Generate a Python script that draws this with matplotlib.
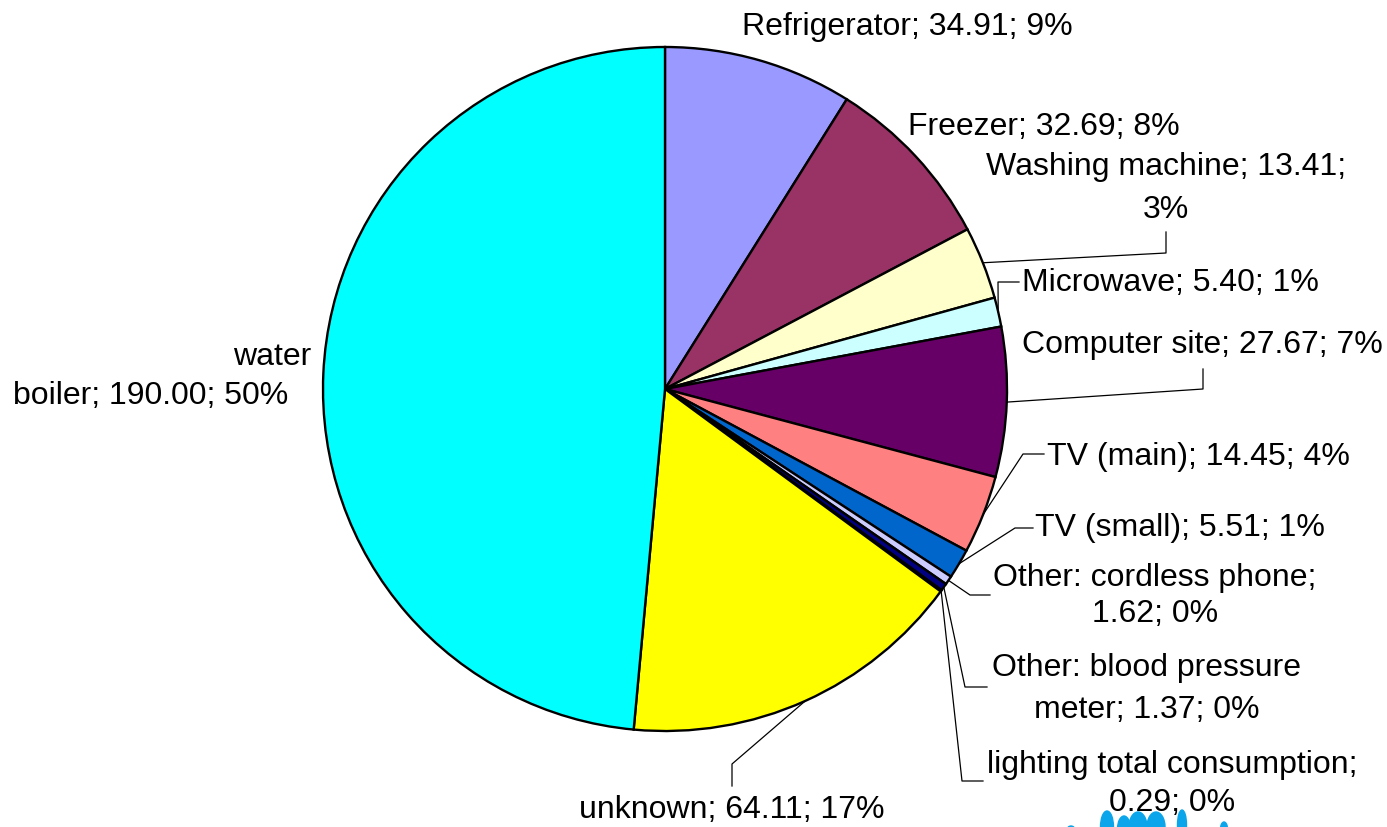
import math
import matplotlib
matplotlib.use("Agg")
import matplotlib.pyplot as plt
from matplotlib.patches import Ellipse

# energy use per appliance, clockwise from 12 o'clock
names = ["Refrigerator", "Freezer", "Washing machine", "Microwave", "Computer site",
         "TV (main)", "TV (small)", "Other: cordless phone", "Other: blood pressure meter",
         "lighting total consumption", "unknown", "water boiler"]
values = [34.91, 32.69, 13.41, 5.40, 27.67, 14.45, 5.51, 1.62, 1.37, 0.29, 64.11, 190.00]
percents = [9, 8, 3, 1, 7, 4, 1, 0, 0, 0, 17, 50]
colors = ["#9999FF", "#993366", "#FFFFCC", "#CCFFFF", "#660066", "#FF8080",
          "#0066CC", "#CCCCFF", "#000080", "#FF00FF", "#FFFF00", "#00FFFF"]

W, H = 1387, 828
CX, CY, R = 665, 390, 342  # pie centre / radius in pixels (y down)

# label layout: text lines (x, y, ha) in pixels, leader elbow + end (or None)
layout = [
    ("{n}; {v:.2f}; {p}%", [(907, 27, "center")], None),
    ("{n}; {v:.2f}; {p}%", [(1044, 127, "center")], None),
    ("{n}; {v:.2f};\n{p}%", [(1166, 167, "center"), (1166, 210, "center")], [(1166, 254), (1166, 233)]),
    ("{n}; {v:.2f}; {p}%", [(1022, 283, "left")], [(998, 283), (1019, 283)]),
    ("{n}; {v:.2f}; {p}%", [(1022, 345, "left")], [(1203, 390), (1203, 370)]),
    ("{n}; {v:.2f}; {p}%", [(1047, 457, "left")], [(1023, 455), (1044, 455)]),
    ("{n}; {v:.2f}; {p}%", [(1035, 528, "left")], [(1015, 529), (1033, 529)]),
    ("{n};\n{v:.2f}; {p}%", [(1155, 578, "center"), (1155, 614, "center")], [(970, 596), (990, 596)]),
    ("Other: blood pressure\nmeter; {v:.2f}; {p}%", [(1147, 668, "center"), (1147, 710, "center")], [(965, 688), (987, 688)]),
    ("{n};\n{v:.2f}; {p}%", [(1172, 765, "center"), (1172, 803, "center")], [(962, 782), (983, 782)]),
    ("{n}; {v:.2f}; {p}%", [(732, 810, "center")], [(732, 765), (732, 787)]),
    ("water\nboiler; {v:.2f}; {p}%", [(272, 357, "center"), (151, 396, "center")], None),
]

plt.rcParams['font.family'] = ['Liberation Sans', 'DejaVu Sans']

fig = plt.figure(figsize=(W / 100, H / 100), dpi=100)
ax = fig.add_axes([0, 0, 1, 1])

ax.pie(values, colors=colors, startangle=90, counterclock=False,
       center=(CX, H - CY), radius=R,
       wedgeprops=dict(edgecolor="black", linewidth=1.7))

total = sum(values)
start = 0.0
for i, (fmt, lines, leader) in enumerate(layout):
    span = values[i] / total * 360
    mid = math.radians(start + span / 2)
    start += span
    text = fmt.format(n=names[i], v=values[i], p=percents[i])
    for (x, y, ha), line in zip(lines, text.split("\n")):
        ax.text(x, H - y, line, fontsize=23, ha=ha, va="center", color="black")
    if leader:
        x0 = CX + R * math.sin(mid)
        y0 = CY - R * math.cos(mid)
        xs = [x0] + [p[0] for p in leader]
        ys = [H - y0] + [H - p[1] for p in leader]
        ax.plot(xs, ys, color="black", lw=0.9)

# partial logo at the bottom edge
for ex, ey, ew, eh in [(1107, 828, 13, 32), (1124, 830, 13, 26), (1138, 828, 18, 30),
                       (1156, 828, 18, 30), (1182, 826, 9, 30), (1224, 830, 7, 14),
                       (1071, 830, 7, 6)]:
    ax.add_patch(Ellipse((ex, H - ey), ew, eh, color="#0AA5EA", zorder=1))

ax.set_xlim(0, W)
ax.set_ylim(0, H)
ax.axis("off")
fig.savefig("out.png", dpi=100, facecolor="white")
